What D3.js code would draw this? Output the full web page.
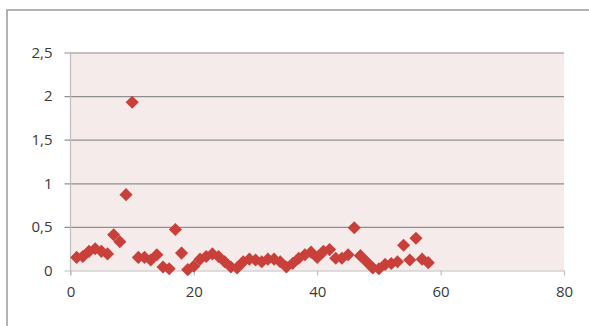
<!DOCTYPE html>
<html>
<head>
<meta charset="utf-8">
<script src="https://cdn.jsdelivr.net/npm/d3@7/dist/d3.min.js"></script>
<style>
  html, body { margin: 0; padding: 0; background: #ffffff; }
  svg { display: block; }
  .tick text { font-family: "Open Sans", "Liberation Sans", sans-serif; font-size: 15px; fill: #3a3a3a; }
</style>
</head>
<body>
<svg id="chart" width="589" height="326"></svg>
<script>
// Sample index (x) and measured value (y)
const xValues = [1,2,3,4,5,6,7,8,9,10,11,12,13,14,15,16,17,18,19,20,21,22,23,24,25,26,27,28,29,30,
                 31,32,33,34,35,36,37,38,39,40,41,42,43,44,45,46,47,48,49,50,51,52,53,54,55,56,57,58];
const yValues = [0.15,0.16,0.22,0.25,0.22,0.19,0.41,0.33,0.87,1.93,0.15,0.15,0.12,0.18,0.04,0.02,0.47,0.20,0.01,0.05,
                 0.13,0.16,0.19,0.16,0.10,0.04,0.03,0.10,0.13,0.12,0.10,0.13,0.13,0.10,0.04,0.08,0.14,0.18,0.21,0.15,
                 0.22,0.24,0.14,0.14,0.18,0.49,0.17,0.10,0.03,0.02,0.07,0.08,0.10,0.29,0.12,0.37,0.13,0.09];
const xTicks = [0, 20, 40, 60, 80];
const yTicks = [0, 0.5, 1, 1.5, 2, 2.5];
const yTickLabels = ["0", "0,5", "1", "1,5", "2", "2,5"];

const svg = d3.select("#chart");
const plotLeft = 70.5, plotRight = 564, plotTop = 52.5, plotBottom = 270.5;

const x = d3.scaleLinear().domain([0, 80]).range([plotLeft, plotRight]);
const y = d3.scaleLinear().domain([0, 2.5]).range([plotBottom, plotTop]);

// Outer chart frame (top and left edges)
svg.append("path")
  .attr("d", `M7,326 L7,10 L589,10`)
  .attr("fill", "none")
  .attr("stroke", "#9a9a9a")
  .attr("stroke-width", 1.5);

// Plot area fill
svg.append("rect")
  .attr("x", plotLeft).attr("y", plotTop)
  .attr("width", plotRight - plotLeft).attr("height", plotBottom - plotTop)
  .attr("fill", "#f6ebeb");

// Horizontal gridlines via the y axis
const yAxis = svg.append("g")
  .attr("transform", `translate(${plotLeft},0)`)
  .call(d3.axisLeft(y).tickValues(yTicks)
    .tickFormat((d, i) => yTickLabels[i])
    .tickSize(-(plotRight - plotLeft))
    .tickPadding(18));
yAxis.select(".domain").remove();
yAxis.selectAll(".tick line")
  .attr("stroke", "#8f8f8f")
  .attr("stroke-width", 1.2)
  .attr("x1", -6);
yAxis.selectAll(".tick")
  .filter(d => d === 0)
  .select("line").attr("stroke", "#bdbdbd");

// Vertical axis line
svg.append("line")
  .attr("x1", plotLeft).attr("x2", plotLeft)
  .attr("y1", plotTop).attr("y2", plotBottom + 5)
  .attr("stroke", "#bdbdbd").attr("stroke-width", 1.2);

// X axis
const xAxis = svg.append("g")
  .attr("transform", `translate(0,${plotBottom})`)
  .call(d3.axisBottom(x).tickValues(xTicks).tickSize(5).tickPadding(11));
xAxis.select(".domain").remove();
xAxis.selectAll(".tick line").attr("stroke", "#bdbdbd").attr("stroke-width", 1.2);

// Diamond markers
const diamond = d3.symbol().type(d3.symbolDiamond2).size(110);
svg.append("g")
  .selectAll("path")
  .data(xValues.map((v, i) => [v, yValues[i]]))
  .join("path")
  .attr("d", diamond)
  .attr("transform", d => `translate(${x(d[0])},${y(d[1])})`)
  .attr("fill", "#c9403b");
</script>
</body>
</html>
